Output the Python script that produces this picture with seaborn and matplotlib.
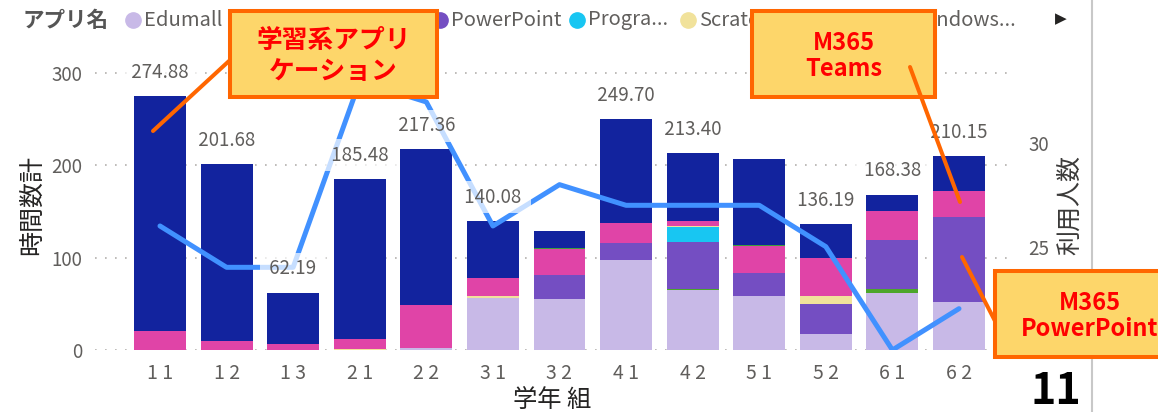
import numpy as np
import pandas as pd
import matplotlib.pyplot as plt
import seaborn as sns
from matplotlib.patches import Rectangle
from matplotlib.lines import Line2D

# grade / class on the x axis
classes = ["1 1", "1 2", "1 3", "2 1", "2 2", "3 1", "3 2",
           "4 1", "4 2", "5 1", "5 2", "6 1", "6 2"]

# hours per app (bottom of the stack first)
edumall     = [0, 0, 0, 0, 2, 56.5, 55, 97.5, 65, 58.5, 17.3, 62, 51.7]
excel       = [0, 0, 0, 0, 0, 0, 0, 0, 1.5, 0, 0, 3.7, 0]
powerpoint  = [0, 0, 0, 0, 0, 0, 26, 18, 51, 25, 32.5, 53.5, 92]
programming = [0, 0, 0, 0, 0, 0, 0, 0, 15.5, 0, 0, 0, 0]
scratch     = [0, 0, 0, 1.5, 0, 2, 0, 0, 1.5, 0, 8.7, 0, 0]
teams       = [21, 10, 6.2, 10, 47, 19.2, 28.7, 22.2, 5.5, 28.8, 40.8, 31.4, 28.7]
sway        = [0, 0, 0, 0, 0, 0, 0.8, 0, 0, 1.2, 0, 0, 0]
windows     = [253.88, 191.68, 55.99, 173.98, 168.36, 62.38, 18.1,
               112.0, 73.4, 93.5, 36.89, 17.78, 37.75]

# number of users (secondary axis)
users = [26, 24, 24, 33, 32, 26, 28, 27, 27, 27, 25, 20, 22]

# which totals Power BI actually shows as data labels
shown = [True, True, True, True, True, True, False,
         True, True, False, True, True, True]

legend_labels = ["Edumall", "Excel", "PowerPoint", "Progra...", "Scratch",
                 "Teams", "Sway", "Windows..."]
# legend entries hidden under the callout boxes in the screenshot
legend_visible = [True, False, True, True, True, False, False, True]
colors = ["#C8B9E7", "#4CA62B", "#744EC2", "#18C6F2", "#F1E29B",
          "#E044A7", "#3E9E3A", "#12239E"]

sns.set_style("white")
plt.rcParams['font.family'] = ['Noto Sans CJK JP', 'DejaVu Sans']

W, H = 1158, 412
fig = plt.figure(figsize=(W / 100, H / 100), dpi=100)
ax = fig.add_axes([95 / W, 62 / H, 915 / W, 290 / H])

layers = np.array([edumall, excel, powerpoint, programming, scratch, teams, sway, windows])
cum = np.cumsum(layers, axis=0)
totals = cum[-1]

# stacked bars: draw the cumulative heights from the top layer down
for vals, col in reversed(list(zip(cum, colors))):
    sns.barplot(x=classes, y=vals, order=classes, color=col, saturation=1,
                width=0.78, errorbar=None, linewidth=0, ax=ax)

ax2 = ax.twinx()
df_users = pd.DataFrame({"pos": np.arange(len(classes)), "users": users})
sns.lineplot(data=df_users, x="pos", y="users", ax=ax2, color="#4191FF", lw=3.6,
             solid_capstyle="round", solid_joinstyle="round")

# total labels with a translucent white background
for i, s in enumerate(shown):
    if s:
        ax2.annotate(f" {totals[i]:.2f} ", xy=(i, totals[i]), xycoords=ax.transData,
                     xytext=(0, 17), textcoords="offset points", ha="center", va="center",
                     fontsize=13.5, color="#605E5C", zorder=6,
                     bbox=dict(boxstyle="square,pad=0.3", fc="white", ec="none", alpha=0.7))

ax.set_xlim(-0.976, 12.766)
ax.set_ylim(0, 314.1)
ax2.set_ylim(20, 34.03)

ax.set_yticks([0, 100, 200, 300])
ax2.set_yticks([25, 30])
ax.yaxis.grid(True, linestyle=(0, (1, 5)), color="#B3B0AD", lw=1.2)
ax.set_axisbelow(True)
for a in (ax, ax2):
    for sp in a.spines.values():
        sp.set_visible(False)
ax.tick_params(axis="y", length=0, labelsize=13.5, labelcolor="#605E5C", pad=9.4)
ax.tick_params(axis="x", length=0, labelsize=14, labelcolor="#605E5C", pad=9.4)
ax2.tick_params(axis="y", length=0, labelsize=13.5, labelcolor="#605E5C", pad=13)

ax.set_xlabel("学年 組", fontsize=17.5, color="#252423", va="center")
ax.xaxis.set_label_coords(0.5, -50 / 290)
ax.set_ylabel("時間数計", fontsize=18, color="#252423", va="center", ha="center")
ax.yaxis.set_label_coords(-63 / 915, 0.5)
ax2.set_ylabel("利用人数", fontsize=18, color="#3B3A39", va="center", ha="center")
ax2.yaxis.set_label_coords(975 / 915, 0.5)


def fx(x):
    return x / W


def fy(y):
    return 1 - y / H


# legend row
fig.text(fx(23), fy(20), "アプリ名", fontsize=15.5, weight="bold", color="#555555",
         ha="left", va="center")
legend_x = [133, 242, 440, 577, 688, 772, 845, 902]
for lx, lab, col, vis in zip(legend_x, legend_labels, colors, legend_visible):
    if not vis:
        continue
    fig.add_artist(Line2D([fx(lx)], [fy(20)], marker="o", ms=11, color=col,
                          transform=fig.transFigure))
    fig.text(fx(lx + 11), fy(20), lab, fontsize=14.5, color="#605E5C",
             ha="left", va="center")
fig.text(fx(1061), fy(19), "▶", fontsize=11, color="#252423", ha="center", va="center",
         family="DejaVu Sans")

# frame line on the right and page number
fig.add_artist(Line2D([fx(1092), fx(1092)], [0, 1], color="#C8C8C8", lw=1.5,
                      transform=fig.transFigure, zorder=5))
fig.text(fx(1056), fy(391), "11", fontsize=31, weight="bold", color="black",
         ha="center", va="center")

# callout boxes
boxes = [((230, 11, 437, 97), "学習系アプリ\nケーション", 18.5),
         ((752, 11, 935, 97), "M365\nTeams", 17),
         ((995, 271, 1185, 357), "M365\nPowerPoint", 17)]
for (x0, y0, x1, y1), txt, fs in boxes:
    fig.add_artist(Rectangle((fx(x0), fy(y1)), (x1 - x0) / W, (y1 - y0) / H,
                             transform=fig.transFigure, fc="#FDD66A", ec="#FF6600",
                             lw=2.9, zorder=10))
    fig.text(fx((x0 + x1) / 2), fy((y0 + y1) / 2 + 2), txt, fontsize=fs, weight="bold",
             color="#FF0000", ha="center", va="center", linespacing=1.15, zorder=11)

connectors = [((229, 61), (153, 131)), ((910, 67), (960, 202)), ((995, 321), (962, 257))]
for (xa, ya), (xb, yb) in connectors:
    fig.add_artist(Line2D([fx(xa), fx(xb)], [fy(ya), fy(yb)], color="#FF6600", lw=2.9,
                          transform=fig.transFigure, zorder=12))

fig.savefig("out.png", dpi=100)
